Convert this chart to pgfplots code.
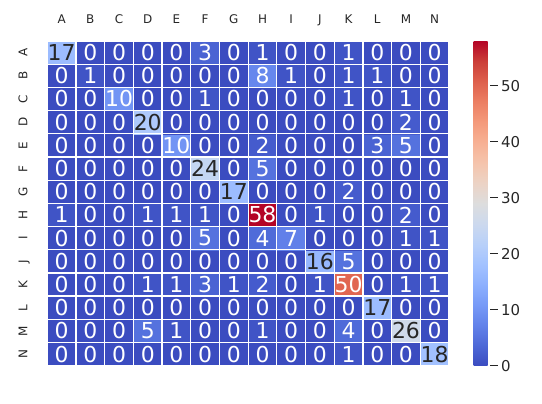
\documentclass[border=0pt]{standalone}
\usepackage{pgfplots}
\pgfplotsset{compat=1.18}
\usepackage{pgfplotstable}
\usepackage{fontspec}
\setmainfont{DejaVu Sans}
\definecolor{tk}{HTML}{262626}
\newcommand\tickfont{\fontsize{12}{14}\selectfont}
\newcommand\cbfont{\fontsize{15}{17}\selectfont}
\newcommand\annfont{\fontsize{22}{24}\selectfont}
\pgfplotsset{
  /pgf/number format/assume math mode=true,
  colormap={coolwarm}{rgb255=(59,76,192) rgb255=(77,104,215) rgb255=(98,130,234) rgb255=(119,154,247)
    rgb255=(141,176,254) rgb255=(163,194,255) rgb255=(184,208,249) rgb255=(204,217,238)
    rgb255=(221,221,221) rgb255=(236,211,197) rgb255=(245,196,172) rgb255=(247,177,148)
    rgb255=(244,154,123) rgb255=(236,127,99) rgb255=(222,96,77) rgb255=(203,62,56) rgb255=(180,4,38)},
}
% x = column (A..N -> 0..13), y = 13 - row (row N -> 0 ... row A -> 13), v = count, t = dark text
\pgfplotstableread[row sep=\\]{
x y v t\\
0 0 0 0\\ 1 0 0 0\\ 2 0 0 0\\ 3 0 0 0\\ 4 0 0 0\\ 5 0 0 0\\ 6 0 0 0\\ 7 0 0 0\\ 8 0 0 0\\ 9 0 0 0\\ 10 0 1 0\\ 11 0 0 0\\ 12 0 0 0\\ 13 0 18 1\\
0 1 0 0\\ 1 1 0 0\\ 2 1 0 0\\ 3 1 5 0\\ 4 1 1 0\\ 5 1 0 0\\ 6 1 0 0\\ 7 1 1 0\\ 8 1 0 0\\ 9 1 0 0\\ 10 1 4 0\\ 11 1 0 0\\ 12 1 26 1\\ 13 1 0 0\\
0 2 0 0\\ 1 2 0 0\\ 2 2 0 0\\ 3 2 0 0\\ 4 2 0 0\\ 5 2 0 0\\ 6 2 0 0\\ 7 2 0 0\\ 8 2 0 0\\ 9 2 0 0\\ 10 2 0 0\\ 11 2 17 1\\ 12 2 0 0\\ 13 2 0 0\\
0 3 0 0\\ 1 3 0 0\\ 2 3 0 0\\ 3 3 1 0\\ 4 3 1 0\\ 5 3 3 0\\ 6 3 1 0\\ 7 3 2 0\\ 8 3 0 0\\ 9 3 1 0\\ 10 3 50 0\\ 11 3 0 0\\ 12 3 1 0\\ 13 3 1 0\\
0 4 0 0\\ 1 4 0 0\\ 2 4 0 0\\ 3 4 0 0\\ 4 4 0 0\\ 5 4 0 0\\ 6 4 0 0\\ 7 4 0 0\\ 8 4 0 0\\ 9 4 16 1\\ 10 4 5 0\\ 11 4 0 0\\ 12 4 0 0\\ 13 4 0 0\\
0 5 0 0\\ 1 5 0 0\\ 2 5 0 0\\ 3 5 0 0\\ 4 5 0 0\\ 5 5 5 0\\ 6 5 0 0\\ 7 5 4 0\\ 8 5 7 0\\ 9 5 0 0\\ 10 5 0 0\\ 11 5 0 0\\ 12 5 1 0\\ 13 5 1 0\\
0 6 1 0\\ 1 6 0 0\\ 2 6 0 0\\ 3 6 1 0\\ 4 6 1 0\\ 5 6 1 0\\ 6 6 0 0\\ 7 6 58 0\\ 8 6 0 0\\ 9 6 1 0\\ 10 6 0 0\\ 11 6 0 0\\ 12 6 2 0\\ 13 6 0 0\\
0 7 0 0\\ 1 7 0 0\\ 2 7 0 0\\ 3 7 0 0\\ 4 7 0 0\\ 5 7 0 0\\ 6 7 17 1\\ 7 7 0 0\\ 8 7 0 0\\ 9 7 0 0\\ 10 7 2 0\\ 11 7 0 0\\ 12 7 0 0\\ 13 7 0 0\\
0 8 0 0\\ 1 8 0 0\\ 2 8 0 0\\ 3 8 0 0\\ 4 8 0 0\\ 5 8 24 1\\ 6 8 0 0\\ 7 8 5 0\\ 8 8 0 0\\ 9 8 0 0\\ 10 8 0 0\\ 11 8 0 0\\ 12 8 0 0\\ 13 8 0 0\\
0 9 0 0\\ 1 9 0 0\\ 2 9 0 0\\ 3 9 0 0\\ 4 9 10 0\\ 5 9 0 0\\ 6 9 0 0\\ 7 9 2 0\\ 8 9 0 0\\ 9 9 0 0\\ 10 9 0 0\\ 11 9 3 0\\ 12 9 5 0\\ 13 9 0 0\\
0 10 0 0\\ 1 10 0 0\\ 2 10 0 0\\ 3 10 20 1\\ 4 10 0 0\\ 5 10 0 0\\ 6 10 0 0\\ 7 10 0 0\\ 8 10 0 0\\ 9 10 0 0\\ 10 10 0 0\\ 11 10 0 0\\ 12 10 2 0\\ 13 10 0 0\\
0 11 0 0\\ 1 11 0 0\\ 2 11 10 0\\ 3 11 0 0\\ 4 11 0 0\\ 5 11 1 0\\ 6 11 0 0\\ 7 11 0 0\\ 8 11 0 0\\ 9 11 0 0\\ 10 11 1 0\\ 11 11 0 0\\ 12 11 1 0\\ 13 11 0 0\\
0 12 0 0\\ 1 12 1 0\\ 2 12 0 0\\ 3 12 0 0\\ 4 12 0 0\\ 5 12 0 0\\ 6 12 0 0\\ 7 12 8 0\\ 8 12 1 0\\ 9 12 0 0\\ 10 12 1 0\\ 11 12 1 0\\ 12 12 0 0\\ 13 12 0 0\\
0 13 17 1\\ 1 13 0 0\\ 2 13 0 0\\ 3 13 0 0\\ 4 13 0 0\\ 5 13 3 0\\ 6 13 0 0\\ 7 13 1 0\\ 8 13 0 0\\ 9 13 0 0\\ 10 13 1 0\\ 11 13 0 0\\ 12 13 0 0\\ 13 13 0 0\\
}\cm
\begin{document}
\begin{tikzpicture}
\useasboundingbox (0,0) rectangle (542bp,-404bp);
\begin{axis}[
  at={(248.15bp,-203.35bp)}, anchor=center,
  scale only axis, width=401.7bp, height=324.7bp,
  xmin=-0.5, xmax=13.5, ymin=-0.5, ymax=13.5,
  clip=false,
  axis line style={draw=none},
  tick style={draw=none}, major tick length=0pt,
  xtick={0,...,13}, ytick={0,...,13},
  xticklabels={A,B,C,D,E,F,G,H,I,J,K,L,M,N},
  yticklabels={N,M,L,K,J,I,H,G,F,E,D,C,B,A},
  xticklabel pos=upper,
  xticklabel style={font=\tickfont, text=tk, anchor=base, inner sep=0pt},
  xticklabel shift=18bp,
  yticklabel style={font=\tickfont, text=tk, rotate=90, anchor=base, inner sep=0pt},
  yticklabel shift=20bp,
  colormap name=coolwarm,
  point meta min=0, point meta max=58,
  colorbar,
  colorbar style={
    at={(parent axis.north east)}, anchor=north west, xshift=16bp,
    width=16bp,
    ytick={0,10,20,30,40,50},
    ytick pos=right, yticklabel pos=right,
    tick align=outside, major tick length=8bp,
    ytick style={draw=tk, line width=0.9bp},
    yticklabel style={font=\cbfont, text=tk},
    axis line style={draw=none},
  },
]
\addplot[matrix plot*, mesh/cols=14, point meta=explicit] table[x=x, y=y, meta=v]{\cm};
\pgfplotsinvokeforeach{-0.5,0.5,1.5,2.5,3.5,4.5,5.5,6.5,7.5,8.5,9.5,10.5,11.5,12.5,13.5}{
  \draw[white, line width=1.3bp] (axis cs:#1,-0.5) -- (axis cs:#1,13.5);
  \draw[white, line width=1.3bp] (axis cs:-0.5,#1) -- (axis cs:13.5,#1);
}
\addplot[only marks, mark=none, point meta=\thisrow{v},
  visualization depends on={\thisrow{t} \as \tc},
  nodes near coords,
  every node near coord/.append style={anchor=center, font=\annfont, inner sep=0pt,
    text=\ifdim\tc pt>0.5pt tk\else white\fi},
] table[x=x, y=y]{\cm};
\end{axis}
\end{tikzpicture}
\end{document}
